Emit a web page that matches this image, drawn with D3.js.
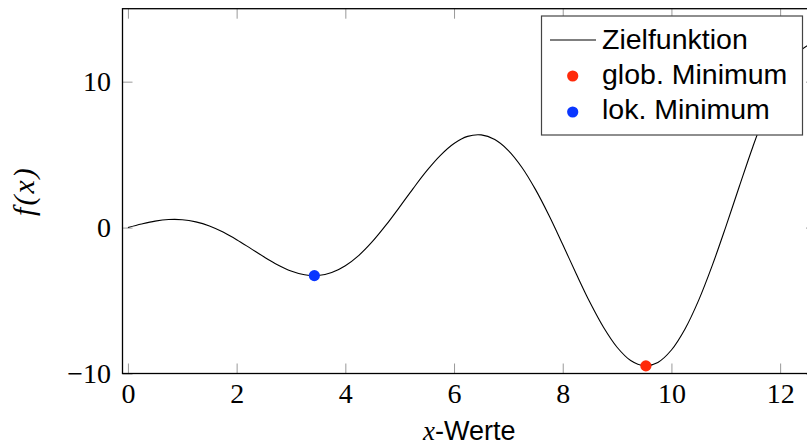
<!DOCTYPE html>
<html>
<head>
<meta charset="utf-8">
<script src="https://cdn.jsdelivr.net/npm/d3@7"></script>
<style>
  body { margin: 0; background: #fff; }
  .tick text { font-family: "Liberation Serif", "DejaVu Serif", serif; font-size: 28px; fill: #000; }
</style>
</head>
<body>
<div id="chart"></div>
<script>
// values
let xSamples = [0, 0.25, 0.5, 0.75, 1, 1.25, 1.5, 1.75, 2, 2.25, 2.5, 2.75, 3, 3.25, 3.5, 3.75,
  4, 4.25, 4.5, 4.75, 5, 5.25, 5.5, 5.75, 6, 6.25, 6.5, 6.75, 7, 7.25, 7.5, 7.75,
  8, 8.25, 8.5, 8.75, 9, 9.25, 9.5, 9.75, 10, 10.25, 10.5, 10.75, 11, 11.25, 11.5, 11.75,
  12, 12.25, 12.5, 12.75];
let fSamples = [0, 0.24, 0.44, 0.55, 0.54, 0.39, 0.11, -0.31, -0.83, -1.41, -2.00, -2.54, -2.97, -3.23, -3.28, -3.08,
  -2.61, -1.90, -0.95, 0.18, 1.42, 2.69, 3.90, 4.95, 5.76, 6.25, 6.35, 6.03, 5.28, 4.12, 2.60, 0.81,
  -1.16, -3.18, -5.12, -6.83, -8.20, -9.11, -9.47, -9.24, -8.39, -6.95, -4.99, -2.61, 0.05, 2.83, 5.56, 8.05,
  10.13, 11.64, 12.47, 12.70];
let globalMin = [{x: 9.53, y: -9.48}];
let localMin = [{x: 3.43, y: -3.29}];
let xTicks = [0, 2, 4, 6, 8, 10, 12];
let yTicks = [-10, 0, 10];
let legendLabels = ["Zielfunktion", "glob. Minimum", "lok. Minimum"];
let colors = {line: "#000", glob: "#ff2a0a", lok: "#0a36ff"};

let width = 807, height = 447;
let margin = {top: 8.7, right: -9, bottom: 73.5, left: 122.5};

let svg = d3.select("#chart")
  .append("svg")
    .attr("width", width)
    .attr("height", height);

let x = d3.scaleLinear()
  .domain([-0.1, 12.66])
  .range([margin.left, width - margin.right]);
let y = d3.scaleLinear()
  .domain([-10, 15])
  .range([height - margin.bottom, margin.top]);

let data = xSamples.map(function(d, i) { return {x: d, y: fSamples[i]}; });

svg.append("clipPath").attr("id", "clip")
  .append("rect")
    .attr("x", x.range()[0]).attr("y", y.range()[1])
    .attr("width", x.range()[1] - x.range()[0])
    .attr("height", y.range()[0] - y.range()[1]);

// ticks on all four sides, pointing inward
function styleAxis(g) {
  g.select(".domain").remove();
  g.selectAll(".tick line").attr("stroke", "#999").attr("stroke-width", 1);
}
svg.append("g")
  .attr("transform", "translate(0," + y.range()[0] + ")")
  .call(d3.axisBottom(x).tickValues(xTicks).tickSizeInner(-10).tickSizeOuter(0).tickPadding(10))
  .call(styleAxis);
svg.append("g")
  .attr("transform", "translate(0," + y.range()[1] + ")")
  .call(d3.axisTop(x).tickValues(xTicks).tickSizeInner(-10).tickSizeOuter(0).tickFormat(""))
  .call(styleAxis);
svg.append("g")
  .attr("transform", "translate(" + x.range()[0] + ",0)")
  .call(d3.axisLeft(y).tickValues(yTicks).tickSizeInner(-10).tickSizeOuter(0).tickPadding(11.5))
  .call(styleAxis);
svg.append("g")
  .attr("transform", "translate(" + x.range()[1] + ",0)")
  .call(d3.axisRight(y).tickValues(yTicks).tickSizeInner(-10).tickSizeOuter(0).tickFormat(""))
  .call(styleAxis);

// the curve
svg.append("path")
  .datum(data)
  .attr("clip-path", "url(#clip)")
  .attr("fill", "none")
  .attr("stroke", colors.line)
  .attr("stroke-width", 1.1)
  .attr("d", d3.line()
    .curve(d3.curveCatmullRom)
    .x(function(d) { return x(d.x); })
    .y(function(d) { return y(d.y); }));

svg.selectAll(".glob").data(globalMin).enter().append("circle")
  .attr("cx", function(d) { return x(d.x); })
  .attr("cy", function(d) { return y(d.y); })
  .attr("r", 5.6).attr("fill", colors.glob);
svg.selectAll(".lok").data(localMin).enter().append("circle")
  .attr("cx", function(d) { return x(d.x); })
  .attr("cy", function(d) { return y(d.y); })
  .attr("r", 5.6).attr("fill", colors.lok);

// frame
svg.append("rect")
  .attr("x", x.range()[0]).attr("y", y.range()[1])
  .attr("width", x.range()[1] - x.range()[0])
  .attr("height", y.range()[0] - y.range()[1])
  .attr("fill", "none").attr("stroke", "#000").attr("stroke-width", 1.3);

// axis labels
svg.append("text")
  .attr("transform", "translate(34," + ((y.range()[0] + y.range()[1]) / 2) + ") rotate(-90)")
  .attr("text-anchor", "middle")
  .style("font-family", "'Liberation Serif', serif")
  .style("font-style", "italic")
  .style("font-size", "30px")
  .style("letter-spacing", "2px")
  .text("f(x)");

let xl = svg.append("text")
  .attr("x", (x.range()[0] + x.range()[1]) / 2)
  .attr("y", 440)
  .attr("text-anchor", "middle")
  .style("font-size", "27px");
xl.append("tspan")
  .style("font-family", "'Liberation Serif', serif")
  .style("font-style", "italic")
  .text("x");
xl.append("tspan")
  .style("font-family", "'Liberation Sans', Arial, sans-serif")
  .text("-Werte");

// legend
let legend = svg.append("g").attr("transform", "translate(541.5,16)");
legend.append("rect")
  .attr("width", 261).attr("height", 119)
  .attr("fill", "#fff").attr("stroke", "#444").attr("stroke-width", 1.2);
legend.append("line")
  .attr("x1", 8.5).attr("x2", 54.5).attr("y1", 24).attr("y2", 24)
  .attr("stroke", colors.line).attr("stroke-width", 1.1);
legend.append("circle").attr("cx", 31.2).attr("cy", 60).attr("r", 5.6).attr("fill", colors.glob);
legend.append("circle").attr("cx", 31.2).attr("cy", 96).attr("r", 5.6).attr("fill", colors.lok);
legend.selectAll(".lab").data(legendLabels).enter().append("text")
  .attr("x", 60.5)
  .attr("y", function(d, i) { return 33.3 + i * 35; })
  .style("font-family", "'Liberation Sans', Arial, sans-serif")
  .style("font-size", "28.5px")
  .text(function(d) { return d; });
</script>
</body>
</html>
